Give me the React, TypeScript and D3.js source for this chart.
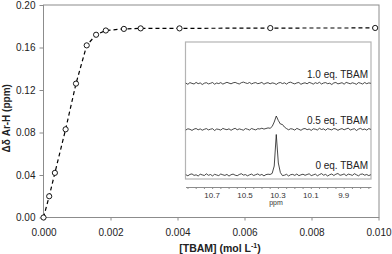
import { useEffect, useRef } from 'react'
import * as d3 from 'd3'

// Titration curve: [TBAM] (mol/L) vs shift of Ar-H (ppm)
const conc = [0, 0.00017, 0.00034, 0.00066, 0.00097, 0.00129, 0.00157, 0.00186, 0.0024, 0.0029, 0.00406, 0.00677, 0.0099]
const shift = [0, 0.020, 0.042, 0.083, 0.126, 0.162, 0.172, 0.176, 0.1775, 0.178, 0.178, 0.1783, 0.1784]

const yTicks = [0, 0.04, 0.08, 0.12, 0.16, 0.2]
const xTicks = [0, 0.002, 0.004, 0.006, 0.008, 0.01]

// Inset 1H NMR traces, sampled from 10.86 ppm down in steps of 0.0125 ppm
const ppmStart = 10.86
const ppmStep = 0.0125
const ppmTicks = [10.7, 10.5, 10.3, 10.1, 9.9]
const traceLabels = ['0 eq. TBAM', '0.5 eq. TBAM', '1.0 eq. TBAM']

const spec0 = [
  0.3, -0.8, 0.6, 1.1, -0.4, 0.2, -1.0, 0.8, 0.1, -0.5,
  1.2, -0.3, 0.5, -0.9, 0.7, 0.0, -0.6, 1.0, 0.2, -0.4,
  0.6, -1.1, 0.3, 0.9, -0.2, -0.7, 0.5, 1.3, -0.1, 0.4,
  -0.8, 0.2, 0.9, -0.5, 0.3, 1.1, -0.3, 0.6, -0.9, 0.4,
  0.8, 0.5, 1.6, 9.0, 40.5, 12.0, 2.4, -0.6, -0.2, 0.7,
  -1.0, 0.3, 0.6, -0.4, 1.0, -0.7, 0.2, 0.8, -0.3, 0.5,
  1.2, -0.6, 0.1, 0.9, -0.8, 0.4, 1.4, -0.2, 0.6, -1.0,
  0.3, 1.0, -0.5, 0.8, 1.5, -0.3, 0.2, 1.1, -0.7, 0.9,
  0.4, -0.4, 1.3, 0.2, -0.8, 0.7, 1.0, -0.2, 0.5, -0.6,
  0.3,
]
const spec05 = [
  -0.5, 0.7, 0.2, -0.9, 0.4, 1.0, -0.3, 0.6, -0.7, 0.2,
  0.9, -0.4, 0.3, 0.8, -1.0, 0.5, 0.1, -0.6, 1.1, 0.3,
  -0.2, 0.7, -0.8, 0.4, 1.2, -0.3, 0.6, 0.0, -0.7, 0.9,
  0.3, -0.5, 1.0, 0.2, -0.4, 0.8, 0.5, 1.3, 0.4, 1.0,
  1.6, 1.2, 3.0, 7.5, 13.5, 9.0, 5.5, 5.0, 2.4, 0.9,
  -0.3, 0.8, 0.4, -0.6, 1.1, 0.2, -0.8, 0.6, 1.0, -0.2,
  0.5, -0.9, 0.7, 0.3, -0.5, 1.2, 0.0, 0.6, -0.7, 0.9,
  0.2, -0.4, 1.0, 0.5, -0.8, 0.3, 0.9, -0.3, 0.6, 1.3,
  -0.5, 0.2, 0.8, -1.0, 0.4, 1.1, -0.2, 0.5, -0.6, 0.9,
  0.1,
]
const spec10 = [
  0.4, -0.8, 0.9, 0.1, -0.5, 1.1, -0.2, 0.6, -1.0, 0.3,
  0.8, -0.4, 0.2, 1.0, -0.7, 0.5, -0.1, 0.9, -0.6, 0.3,
  1.2, 0.4, -0.3, 0.7, 1.1, 0.2, -0.5, 0.8, 1.4, 0.6,
  0.0, 1.0, -0.4, 0.5, 0.9, -0.2, 0.3, 1.1, -0.7, 0.4,
  0.8, -0.3, 0.6, 0.2, -0.9, 0.5, 1.0, -0.1, 0.7, -0.6,
  0.9, 1.3, 0.3, -0.4, 0.6, 1.0, -0.8, 0.2, 0.7, -0.3,
  1.1, 0.4, -0.6, 0.8, 0.0, 1.2, -0.5, 0.5, 0.9, -0.2,
  0.3, -1.0, 0.6, 1.0, -0.4, 0.2, 0.8, -0.7, 1.1, 0.4,
  -0.3, 0.7, 0.1, -0.8, 0.9, 0.3, -0.5, 1.0, -0.2, 0.6,
  0.2,
]

const FONT = '"Liberation Sans", Arial, sans-serif'

export default function App() {
  const svgRef = useRef<SVGSVGElement>(null)

  useEffect(() => {
    if (!svgRef.current) return
    const svg = d3.select(svgRef.current)
    svg.selectAll('*').remove()

    const x = d3.scaleLinear().domain([0, 0.01]).range([43.5, 378.5])
    const y = d3.scaleLinear().domain([0, 0.2]).range([217.5, 5])

    // plot frame
    svg.append('rect')
      .attr('x', x(0)).attr('y', y(0.2))
      .attr('width', x(0.01) - x(0) + 0.5).attr('height', y(0) - y(0.2))
      .attr('fill', 'none').attr('stroke', '#8c8c8c').attr('stroke-width', 1)

    const yAxis = svg.append('g')
      .attr('transform', `translate(${x(0)},0)`)
      .call(d3.axisLeft(y).tickValues(yTicks).tickFormat(d3.format('.2f')).tickSize(4).tickPadding(4).tickSizeOuter(0))
    const xAxis = svg.append('g')
      .attr('transform', `translate(0,${y(0)})`)
      .call(d3.axisBottom(x).tickValues(xTicks).tickFormat(d3.format('.3f')).tickSize(3).tickPadding(8).tickSizeOuter(0))

    for (const ax of [xAxis, yAxis]) {
      ax.select('.domain').remove()
      ax.selectAll('.tick line').attr('stroke', '#8c8c8c')
      ax.selectAll('text').attr('fill', '#222').style('font-size', '10px').style('font-family', FONT)
    }

    // axis titles
    svg.append('text')
      .attr('transform', `translate(10,${(y(0) + y(0.2)) / 2 + 7}) rotate(-90)`)
      .attr('text-anchor', 'middle')
      .style('font-family', FONT).style('font-size', '10px').style('font-weight', 'bold')
      .attr('fill', '#222')
      .text('Δδ Ar-H (ppm)')

    const xt = svg.append('text')
      .attr('x', 220).attr('y', 252)
      .attr('text-anchor', 'middle')
      .style('font-family', FONT).style('font-size', '10.5px').style('font-weight', 'bold')
      .attr('fill', '#222')
    xt.append('tspan').text('[TBAM] (mol L')
    xt.append('tspan').attr('dy', -4).style('font-size', '7px').text('-1')
    xt.append('tspan').attr('dy', 4).text(')')

    // titration curve
    const pts = conc.map((c, i) => [c, shift[i]] as [number, number])
    svg.append('path')
      .datum(pts)
      .attr('fill', 'none').attr('stroke', '#000').attr('stroke-width', 1.2)
      .attr('stroke-dasharray', '4,3')
      .attr('d', d3.line<[number, number]>().x(d => x(d[0])).y(d => y(d[1])))

    svg.selectAll('.pt')
      .data(pts)
      .enter().append('circle')
      .attr('class', 'pt')
      .attr('cx', d => x(d[0])).attr('cy', d => y(d[1]))
      .attr('r', 2.6)
      .attr('fill', '#fff').attr('stroke', '#000').attr('stroke-width', 0.9)

    // ---- inset NMR spectra ----
    const xi = d3.scaleLinear().domain([10.862, 9.734]).range([185.5, 371])
    const yi = d3.scaleLinear().domain([-4, 133]).range([179, 42])

    svg.append('rect')
      .attr('x', xi.range()[0]).attr('y', 42)
      .attr('width', xi.range()[1] - xi.range()[0]).attr('height', 137)
      .attr('fill', '#fff').attr('stroke', '#b4b4b4').attr('stroke-width', 1.2)

    const ppm = spec0.map((_, i) => ppmStart - i * ppmStep)
    const offsets = [0, 45.5, 91.5]
    const traces = [spec0, spec05, spec10]
    const specLine = d3.line<number>().x((_, i) => xi(ppm[i]))

    traces.forEach((tr, k) => {
      svg.append('path')
        .datum(tr)
        .attr('fill', 'none').attr('stroke', '#1a1a1a').attr('stroke-width', 0.8)
        .attr('d', specLine.y(v => yi(v + offsets[k]))(tr))
      svg.append('text')
        .attr('x', 368).attr('y', yi(offsets[k]) - 6)
        .attr('text-anchor', 'end')
        .style('font-family', FONT).style('font-size', '10px')
        .attr('fill', '#222')
        .text(traceLabels[k])
    })

    const inAxis = svg.append('g')
      .attr('transform', 'translate(0,187)')
      .call(d3.axisBottom(xi).tickValues(d3.range(10.85, 9.74, -0.05)).tickFormat(() => '').tickSize(2).tickSizeOuter(0))
    inAxis.select('.domain').attr('stroke', '#8c8c8c')
    inAxis.selectAll('.tick line').attr('stroke', '#8c8c8c')

    svg.append('g').selectAll('text')
      .data(ppmTicks)
      .enter().append('text')
      .attr('x', d => xi(d)).attr('y', 198)
      .attr('text-anchor', 'middle')
      .style('font-family', FONT).style('font-size', '8px')
      .attr('fill', '#333')
      .text(d => d.toFixed(1))

    svg.append('text')
      .attr('x', 276).attr('y', 205)
      .attr('text-anchor', 'middle')
      .style('font-family', FONT).style('font-size', '7px')
      .attr('fill', '#333')
      .text('ppm')
  }, [])

  return (
    <svg
      ref={svgRef}
      width={392}
      height={254}
      style={{ position: 'absolute', left: 0, top: 0, background: '#fff' }}
    />
  )
}
